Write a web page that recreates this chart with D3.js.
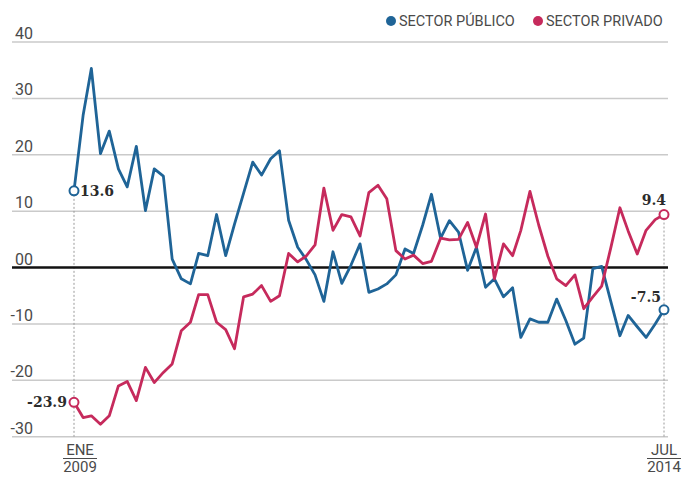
<!DOCTYPE html>
<html>
<head>
<meta charset="utf-8">
<script src="https://cdn.jsdelivr.net/npm/d3@7"></script>
<style>
  body { margin: 0; background: #fff; }
  svg { display: block; }
</style>
</head>
<body>
<div id="wrapper"></div>
<script>
// monthly values, ENE 2009 -> JUL 2014
const publico = [13.6, 27, 35.3, 20.2, 24.2, 17.5, 14.3, 21.5, 10.1, 17.5, 16.2, 1.5,
  -2.0, -2.9, 2.5, 2.1, 9.4, 2.1, 7.7, 13.2, 18.7, 16.4, 19.3, 20.7,
  8.4, 3.6, 1.5, -1.3, -6.0, 2.8, -2.8, 0.4, 4.2, -4.4, -3.8, -2.9,
  -1.3, 3.3, 2.5, 7.5, 13.0, 5.2, 8.3, 6.3, -0.5, 3.6, -3.5, -2.0,
  -5.2, -3.6, -12.4, -9.1, -9.7, -9.7, -5.6, -9.4, -13.6, -12.5, -0.2, 0.2,
  -6.0, -12.1, -8.5, -10.5, -12.4, -10.0, -7.5]
const privado = [-23.9, -26.6, -26.3, -27.8, -26.3, -21.0, -20.2, -23.6, -17.7, -20.4, -18.6, -17.1,
  -11.2, -9.7, -4.8, -4.8, -9.7, -11.0, -14.4, -5.2, -4.7, -3.2, -6.0, -5.0,
  2.5, 1.0, 2.0, 4.0, 14.1, 6.6, 9.4, 9.0, 5.6, 13.3, 14.6, 12.2,
  3.0, 1.5, 2.2, 0.7, 1.1, 5.2, 4.9, 5.0, 8.0, 3.6, 9.5, -2.0,
  4.2, 2.1, 6.6, 13.5, 7.5, 2.0, -2.0, -3.2, -1.3, -7.3, -5.2, -3.3,
  3.5, 10.6, 6.5, 2.4, 6.6, 8.5, 9.4]
const yTicks = [40, 30, 20, 10, 0, -10, -20, -30]
const yTickLabels = ["40", "30", "20", "10", "00", "-10", "-20", "-30"]
const xLabels = [["ENE", "2009"], ["JUL", "2014"]]
const seriesNames = ["SECTOR PÚBLICO", "SECTOR PRIVADO"]

function drawChart() {

  const width = 682
  const height = 477
  const blue = "#1f6497"
  const red = "#c62a5c"
  const sans = "Roboto, 'Liberation Sans', sans-serif"
  const serif = "'DejaVu Serif', 'Liberation Serif', serif"

  const start = new Date(2009, 0, 1)
  const dates = publico.map((d, i) => d3.timeMonth.offset(start, i))

  const svg = d3.select("#wrapper")
    .append("svg")
      .attr("width", width)
      .attr("height", height)

  // scales
  const xScale = d3.scaleTime()
    .domain([dates[0], dates[dates.length - 1]])
    .range([74, 664])

  const yScale = d3.scaleLinear()
    .domain([-30, 40])
    .range([436.7, 42])

  // gridlines + labels
  const grid = svg.append("g")
  grid.selectAll("line")
    .data(yTicks.filter(d => d != 0))
    .join("line")
      .attr("x1", 12)
      .attr("x2", 668)
      .attr("y1", d => yScale(d))
      .attr("y2", d => yScale(d))
      .attr("stroke", "#cacaca")
      .attr("stroke-width", 1.5)

  grid.selectAll("text")
    .data(yTicks)
    .join("text")
      .attr("x", 33)
      .attr("y", d => yScale(d) - 3)
      .attr("text-anchor", "end")
      .attr("font-family", sans)
      .attr("font-size", 16)
      .attr("fill", "#4a4a4a")
      .text((d, i) => yTickLabels[i])

  // dotted guides at first/last month
  const guides = [
    { x: dates[0], top: publico[0] },
    { x: dates[dates.length - 1], top: privado[privado.length - 1] },
  ]
  svg.append("g")
    .selectAll("line")
    .data(guides)
    .join("line")
      .attr("x1", d => xScale(d.x))
      .attr("x2", d => xScale(d.x))
      .attr("y1", d => yScale(d.top))
      .attr("y2", yScale(-30))
      .attr("stroke", "#9a9a9a")
      .attr("stroke-width", 1)
      .attr("stroke-dasharray", "2,2")

  // zero line
  svg.append("line")
    .attr("x1", 12)
    .attr("x2", 668)
    .attr("y1", yScale(0))
    .attr("y2", yScale(0))
    .attr("stroke", "#111")
    .attr("stroke-width", 2.6)

  // lines
  const lineGenerator = d3.line()
    .x((d, i) => xScale(dates[i]))
    .y(d => yScale(d))

  const series = [
    { name: seriesNames[0], values: publico, color: blue },
    { name: seriesNames[1], values: privado, color: red },
  ]

  svg.append("g")
    .selectAll("path")
    .data(series)
    .join("path")
      .attr("d", d => lineGenerator(d.values))
      .attr("fill", "none")
      .attr("stroke", d => d.color)
      .attr("stroke-width", 2.8)
      .attr("stroke-linejoin", "round")

  // end markers
  const ends = []
  series.forEach(s => {
    ends.push({ x: dates[0], v: s.values[0], color: s.color })
    ends.push({ x: dates[dates.length - 1], v: s.values[s.values.length - 1], color: s.color })
  })
  svg.append("g")
    .selectAll("circle")
    .data(ends)
    .join("circle")
      .attr("cx", d => xScale(d.x))
      .attr("cy", d => yScale(d.v))
      .attr("r", 4.5)
      .attr("fill", "#fff")
      .attr("stroke", d => d.color)
      .attr("stroke-width", 2)

  // value labels
  const valueLabels = [
    { x: dates[0], v: publico[0], dx: 6, dy: 5, anchor: "start" },
    { x: dates[0], v: privado[0], dx: -7, dy: 5, anchor: "end" },
    { x: dates[dates.length - 1], v: privado[privado.length - 1], dx: 2, dy: -10, anchor: "end" },
    { x: dates[dates.length - 1], v: publico[publico.length - 1], dx: -3, dy: -8, anchor: "end" },
  ]
  svg.append("g")
    .selectAll("text")
    .data(valueLabels)
    .join("text")
      .attr("x", d => xScale(d.x) + d.dx)
      .attr("y", d => yScale(d.v) + d.dy)
      .attr("text-anchor", d => d.anchor)
      .attr("font-family", serif)
      .attr("font-weight", "bold")
      .attr("font-size", 14)
      .attr("fill", "#2b2b2b")
      .text(d => d.v.toFixed(1))

  // x labels (month over year)
  const xl = svg.append("g")
    .selectAll("g")
    .data([dates[0], dates[dates.length - 1]])
    .join("g")
      .attr("transform", (d, i) => `translate(${xScale(d) + (i == 0 ? 6 : 0)},0)`)

  xl.append("text")
    .attr("y", 455)
    .attr("text-anchor", "middle")
    .attr("font-family", sans)
    .attr("font-size", 15)
    .attr("fill", "#4a4a4a")
    .text((d, i) => xLabels[i][0])

  xl.append("line")
    .attr("x1", -17)
    .attr("x2", 17)
    .attr("y1", 458.5)
    .attr("y2", 458.5)
    .attr("stroke", "#4a4a4a")
    .attr("stroke-width", 1)

  xl.append("text")
    .attr("y", 472)
    .attr("text-anchor", "middle")
    .attr("font-family", sans)
    .attr("font-size", 15)
    .attr("fill", "#4a4a4a")
    .text((d, i) => xLabels[i][1])

  // legend
  const legend = svg.append("g")
    .selectAll("g")
    .data(series)
    .join("g")
      .attr("transform", (d, i) => `translate(${i == 0 ? 391 : 538},21)`)

  legend.append("circle")
    .attr("r", 5)
    .attr("fill", d => d.color)

  legend.append("text")
    .attr("x", 8)
    .attr("y", 5)
    .attr("font-family", sans)
    .attr("font-size", 14.5)
    .attr("fill", "#4a4a4a")
    .text(d => d.name)
}
drawChart()
</script>
</body>
</html>
